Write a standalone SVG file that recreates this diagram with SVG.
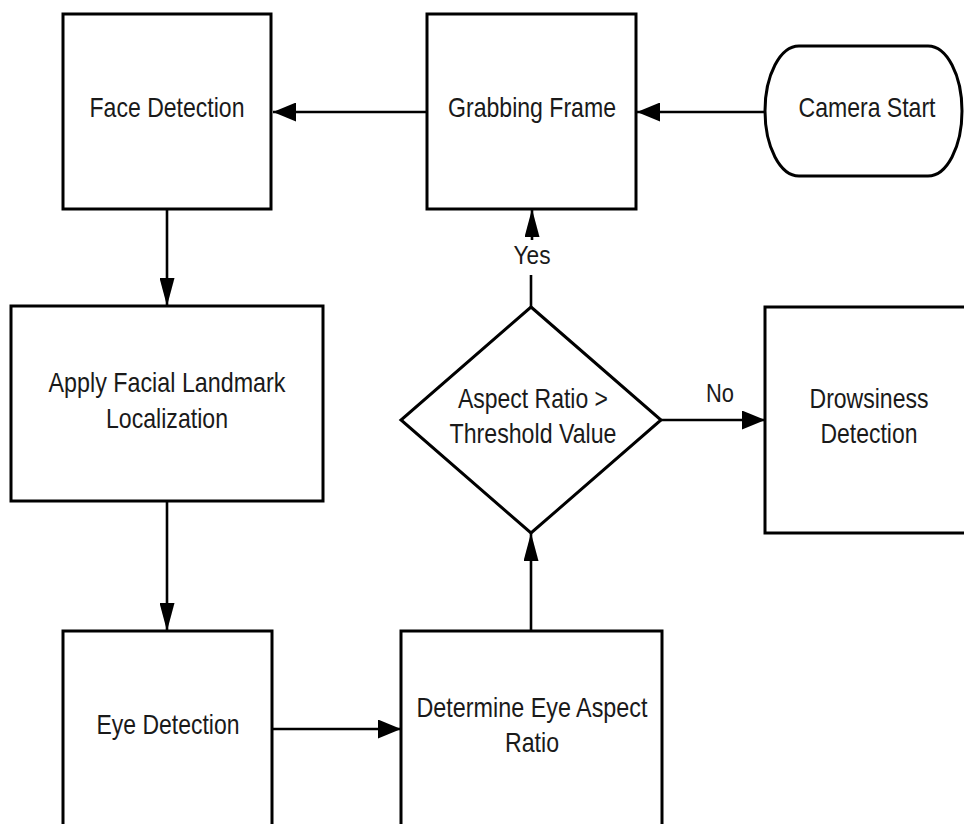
<svg xmlns="http://www.w3.org/2000/svg" width="964" height="824" viewBox="0 0 964 824">
<style>
.box{fill:#fff;stroke:#000;stroke-width:3}
.ln{fill:none;stroke:#000;stroke-width:2.6}
.t{font-family:"Liberation Sans",Arial,sans-serif;font-size:28px;fill:#1a1a1a;text-anchor:middle}
.s{font-size:26px}
</style>
<defs>
<marker id="ahh" viewBox="0 0 23 19" refX="23" refY="9.5" markerWidth="23" markerHeight="19" markerUnits="userSpaceOnUse" orient="auto">
<path d="M0,0 L23,9.5 L0,19 Z" fill="#000"/>
</marker>
<marker id="ahv" viewBox="0 0 28 15" refX="28" refY="7.5" markerWidth="28" markerHeight="15" markerUnits="userSpaceOnUse" orient="auto">
<path d="M0,0 L28,7.5 L0,15 Z" fill="#000"/>
</marker>
</defs>
<rect width="964" height="824" fill="#fff"/>
<g id="connectors">
<line class="ln" x1="765" y1="112" x2="637" y2="112" marker-end="url(#ahh)"/>
<line class="ln" x1="427" y1="112" x2="273" y2="112" marker-end="url(#ahh)"/>
<line class="ln" x1="167" y1="209" x2="167" y2="306" marker-end="url(#ahv)"/>
<line class="ln" x1="167" y1="501" x2="167" y2="631" marker-end="url(#ahv)"/>
<line class="ln" x1="272" y1="729" x2="401" y2="729" marker-end="url(#ahh)"/>
<line class="ln" x1="531" y1="631" x2="531" y2="533" marker-end="url(#ahv)"/>
<line class="ln" x1="661" y1="420" x2="765" y2="420" marker-end="url(#ahh)"/>
<line class="ln" x1="531" y1="307" x2="531" y2="275"/>
<line class="ln" x1="532" y1="240" x2="532" y2="209" marker-end="url(#ahv)"/>
<text class="t s" x="532" y="264" textLength="37" lengthAdjust="spacingAndGlyphs">Yes</text>
<text class="t s" x="720" y="402" textLength="28" lengthAdjust="spacingAndGlyphs">No</text>
</g>
<g id="camera-start">
<rect class="box" x="765" y="46" width="197" height="130" rx="34" ry="65"/>
<text class="t" x="867" y="117" textLength="137" lengthAdjust="spacingAndGlyphs">Camera Start</text>
</g>
<g id="grabbing-frame">
<rect class="box" x="427" y="14" width="209" height="195"/>
<text class="t" x="532" y="117" textLength="168" lengthAdjust="spacingAndGlyphs">Grabbing Frame</text>
</g>
<g id="face-detection">
<rect class="box" x="63" y="14" width="208" height="195"/>
<text class="t" x="167" y="117" textLength="155" lengthAdjust="spacingAndGlyphs">Face Detection</text>
</g>
<g id="facial-landmark">
<rect class="box" x="11" y="306" width="312" height="195"/>
<text class="t" x="167" y="392" textLength="237" lengthAdjust="spacingAndGlyphs">Apply Facial Landmark</text>
<text class="t" x="167" y="428" textLength="122" lengthAdjust="spacingAndGlyphs">Localization</text>
</g>
<g id="eye-detection">
<rect class="box" x="63" y="631" width="209" height="200"/>
<text class="t" x="168" y="734" textLength="143" lengthAdjust="spacingAndGlyphs">Eye Detection</text>
</g>
<g id="eye-aspect-ratio">
<rect class="box" x="401" y="631" width="261" height="200"/>
<text class="t" x="532" y="717" textLength="231" lengthAdjust="spacingAndGlyphs">Determine Eye Aspect</text>
<text class="t" x="532" y="752" textLength="54" lengthAdjust="spacingAndGlyphs">Ratio</text>
</g>
<g id="threshold">
<polygon class="box" points="531,307 661,420 531,533 401,420"/>
<text class="t" x="533" y="408" textLength="150" lengthAdjust="spacingAndGlyphs">Aspect Ratio &gt;</text>
<text class="t" x="533" y="443" textLength="167" lengthAdjust="spacingAndGlyphs">Threshold Value</text>
</g>
<g id="drowsiness">
<rect class="box" x="765" y="307" width="210" height="226"/>
<text class="t" x="869" y="408" textLength="119" lengthAdjust="spacingAndGlyphs">Drowsiness</text>
<text class="t" x="869" y="443" textLength="97" lengthAdjust="spacingAndGlyphs">Detection</text>
</g>
</svg>
